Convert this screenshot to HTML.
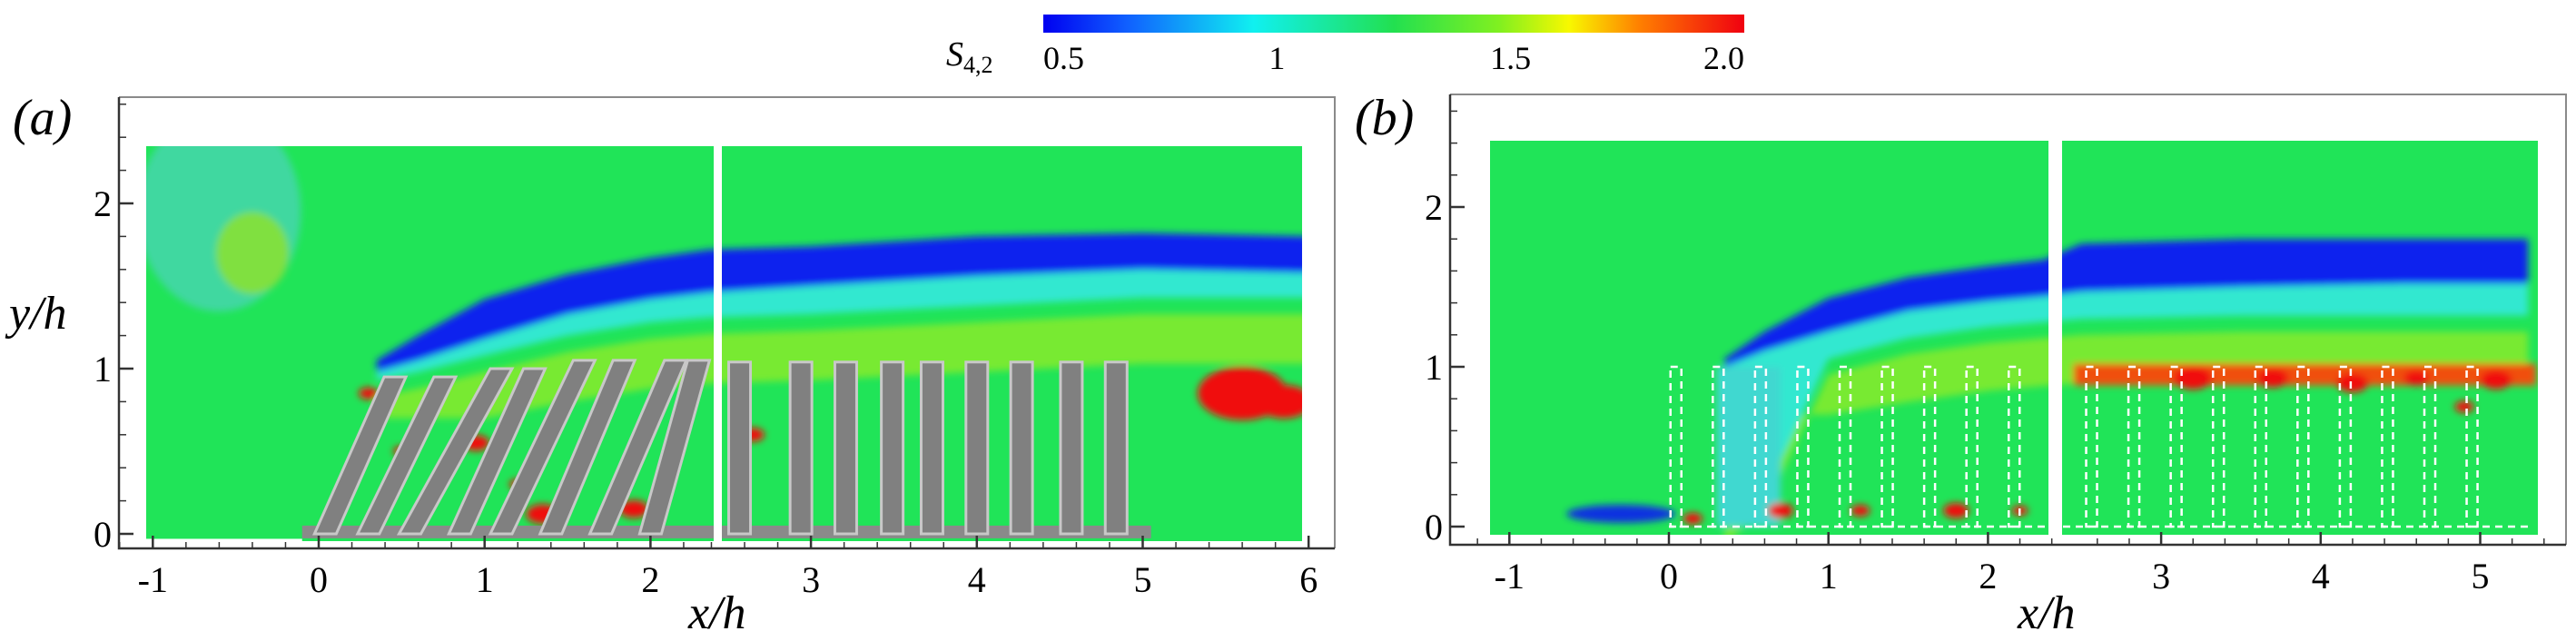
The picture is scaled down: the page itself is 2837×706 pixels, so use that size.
<!DOCTYPE html>
<html><head><meta charset="utf-8">
<style>
html,body{margin:0;padding:0;background:#fff;}
svg{display:block;font-family:"Liberation Serif",serif;}
</style></head>
<body>
<svg id="fig" width="2837" height="706" viewBox="0 0 2837 706" xmlns="http://www.w3.org/2000/svg">
<defs>
<linearGradient id="cbar" x1="0" x2="1" y1="0" y2="0">
<stop offset="0" stop-color="#0000f0"/><stop offset="0.12" stop-color="#1060ff"/>
<stop offset="0.3" stop-color="#10f0f0"/><stop offset="0.5" stop-color="#22e050"/>
<stop offset="0.65" stop-color="#80f020"/><stop offset="0.75" stop-color="#f8f800"/>
<stop offset="0.85" stop-color="#ff8000"/><stop offset="1" stop-color="#f00010"/>
</linearGradient>
<filter id="blur" x="-5%" y="-5%" width="110%" height="110%"><feGaussianBlur stdDeviation="4"/></filter>
<clipPath id="clipA"><rect x="161" y="161" width="1273" height="435"/></clipPath>
<clipPath id="clipB"><rect x="1641" y="155" width="1154" height="434"/></clipPath>
</defs>
<g id="root"></g>
<text x="1042" y="72" font-size="38" font-style="italic">S<tspan font-size="26" dy="8" font-style="normal">4,2</tspan></text>
<rect x="1149" y="16" width="772" height="20" fill="url(#cbar)"/>
<text x="14" y="148" font-size="56" font-style="italic">(a)</text>
<text x="1492" y="148" font-size="56" font-style="italic">(b)</text>
<text x="10" y="362" font-size="52" font-style="italic">y/h</text>
<text x="758" y="692" font-size="52" font-style="italic">x/h</text>
<text x="2222" y="692" font-size="52" font-style="italic">x/h</text>
</svg>
<script>
const cbarTicks = [0.5, 1, 1.5, 2.0];
const cbarLabels = ["0.5", "1", "1.5", "2.0"];
const xTicksA = [-1, 0, 1, 2, 3, 4, 5, 6];
const xTicksB = [-1, 0, 1, 2, 3, 4, 5];
const yTicks = [0, 1, 2];
const shearXA = [0.35, 0.6, 1.0, 1.5, 2.0, 2.35, 3.0, 4.0, 5.0, 6.0];
const shearTopA = [1.05, 1.2, 1.42, 1.57, 1.67, 1.72, 1.74, 1.8, 1.82, 1.8];
const shearBotA = [0.98, 1.05, 1.18, 1.33, 1.42, 1.46, 1.5, 1.56, 1.6, 1.58];
const cyanBotA = [0.93, 0.98, 1.08, 1.2, 1.28, 1.31, 1.33, 1.38, 1.43, 1.43];
const shearXB = [0.35, 0.6, 1.0, 1.5, 2.0, 2.35, 2.5, 3.5, 4.5, 5.3];
const shearTopB = [1.05, 1.22, 1.43, 1.56, 1.63, 1.67, 1.77, 1.8, 1.8, 1.8];
const shearBotB = [1.0, 1.1, 1.22, 1.35, 1.41, 1.44, 1.47, 1.5, 1.52, 1.52];
const cyanBotB = [0.0, 0.2, 1.05, 1.18, 1.25, 1.28, 1.3, 1.32, 1.32, 1.32];
const stemBaseA = [0.04, 0.3, 0.55, 0.85, 1.1, 1.4, 1.7, 2.0, 2.57, 2.94, 3.21, 3.49, 3.73, 4.0, 4.27, 4.57, 4.84];
const stemTopA = [0.46, 0.76, 1.1, 1.3, 1.6, 1.84, 2.15, 2.29, 2.57, 2.94, 3.21, 3.49, 3.73, 4.0, 4.27, 4.57, 4.84];
const stemHA = [0.95, 0.95, 1.0, 1.0, 1.05, 1.05, 1.05, 1.05, 1.04, 1.04, 1.04, 1.04, 1.04, 1.04, 1.04, 1.04, 1.04];
const redXA = [0.3, 0.95, 1.35, 1.9, 2.65, 5.6, 5.85, 0.5, 1.2];
const redYA = [0.85, 0.55, 0.12, 0.15, 0.6, 0.85, 0.8, 0.5, 0.3];
const redRA = [0.06, 0.08, 0.1, 0.09, 0.07, 0.27, 0.17, 0.05, 0.05];
const stemXB = [0.01, 0.275, 0.54, 0.805, 1.07, 1.335, 1.6, 1.865, 2.13, 2.53, 2.795, 3.06, 3.325, 3.59, 3.855, 4.12, 4.385, 4.65, 4.915];
const redXB = [0.7, 1.2, 1.8, 2.2, 3.2, 3.7, 4.2, 4.6, 4.9, 5.1, 0.15];
const redYB = [0.1, 0.1, 0.1, 0.1, 0.93, 0.93, 0.9, 0.93, 0.75, 0.92, 0.05];
const redRB = [0.08, 0.06, 0.08, 0.05, 0.12, 0.1, 0.1, 0.08, 0.06, 0.1, 0.06];

const NS = "http://www.w3.org/2000/svg";
const root = document.getElementById('root');
function mk(tag, attrs, parent) {
  const e = document.createElementNS(NS, tag);
  for (const k in attrs) e.setAttribute(k, attrs[k]);
  (parent || root).appendChild(e);
  return e;
}
const XA = x => x <= 2.35 ? 351 + x * 182.7 : 345 + x * 182.7;
const YA = y => 588 - y * 182;
const XB = x => x <= 2.4 ? 1838 + x * 175.7 : 1853 + x * 175.7;
const YB = y => 580 - y * 176;
const CB = v => 1149 + (v - 0.5) / 1.5 * 772;

cbarTicks.forEach((v, i) => {
  const t = mk('text', {x: CB(v), y: 76, 'font-size': 36, 'text-anchor': i === 0 ? 'start' : (i === 3 ? 'end' : 'middle')});
  
  
  t.textContent = cbarLabels[i];
});

function band(X, Y, xs, top, bot, fill, parent, name) {
  let d = '';
  xs.forEach((x, i) => d += (i ? 'L' : 'M') + X(x) + ',' + Y(top[i]));
  for (let i = xs.length - 1; i >= 0; i--) d += 'L' + X(xs[i]) + ',' + Y(bot[i]);
  const p = mk('path', {d: d + 'Z', fill: fill}, parent);
  
  
}

function panel(o) {
  const g = mk('g', {});
  
  
  const field = mk('g', {'clip-path': o.clip}, g);
  
  
  const r = mk('rect', {x: o.dx, y: o.dy, width: o.dw, height: o.dh, fill: '#20e458'}, field);
  
  
  const bl = mk('g', {filter: 'url(#blur)'}, field);
  const yel = o.shearX.map((x, i) => o.cyanBot[i] - 0.1);
  const yel2 = o.shearX.map((x, i) => Math.max(o.cyanBot[i] - 0.4, 0.7));
  band(o.X, o.Y, o.shearX, yel, yel2, '#78ea30', bl, 'yellowish-band');
  band(o.X, o.Y, o.shearX, o.shearBot, o.cyanBot, '#30e8d0', bl, 'cyan-band');
  band(o.X, o.Y, o.shearX, o.shearTop, o.shearBot, '#0a20ee', bl, 'shear-layer-band');
  o.extra(field, bl);
  const gap = mk('rect', {x: o.gap[0], y: 100, width: o.gap[1] - o.gap[0], height: 505, fill: '#fff'}, g);
  
  
  const fr = mk('path', {d: `M${o.fl},${o.ft}H${o.fr}V${o.fb}`, stroke: '#8a8a8a', 'stroke-width': 2, fill: 'none'}, g);
  
  
  const ax = mk('path', {d: `M${o.fl},${o.ft}V${o.fb}H${o.fr}`, stroke: '#333', 'stroke-width': 2.5, fill: 'none'}, g);
  
  
  for (let v = -1.2; v <= o.xmax + 0.001; v += 0.2) {
    const px = o.X(v);
    if (px < o.fl || px > o.fr) continue;
    const major = Math.abs(v - Math.round(v)) < 0.01;
    const t = mk('line', {x1: px, x2: px, y1: o.fb, y2: o.fb - (major ? 14 : 7), stroke: '#333', 'stroke-width': major ? 2.5 : 1.5}, g);
    
    
  }
  o.xTicks.forEach(v => {
    const t = mk('text', {x: o.X(v), y: o.fb + 48, 'font-size': 40, 'text-anchor': 'middle'}, g);
    
    
    t.textContent = String(v);
  });
  for (let v = 0; v <= 2.6; v += 0.2) {
    const py = o.Y(v);
    const major = Math.abs(v - Math.round(v)) < 0.01;
    const t = mk('line', {x1: o.fl, x2: o.fl + (major ? 16 : 8), y1: py, y2: py, stroke: '#333', 'stroke-width': major ? 2.5 : 1.5}, g);
    
    
  }
  yTicks.forEach(v => {
    const t = mk('text', {x: o.fl - 8, y: o.Y(v) + 14, 'font-size': 40, 'text-anchor': 'end'}, g);
    
    
    t.textContent = String(v);
  });
}

panel({
  name: 'panel-a', X: XA, Y: YA, clip: 'url(#clipA)', dx: 161, dy: 161, dw: 1273, dh: 435,
  shearX: shearXA, shearTop: shearTopA, shearBot: shearBotA, cyanBot: cyanBotA,
  gap: [786, 795], fl: 131, ft: 107, fr: 1470, fb: 604, xmax: 6.2, xTicks: xTicksA,
  extra: (field, bl) => {
    const c = mk('ellipse', {cx: XA(-0.6), cy: YA(1.95), rx: 90, ry: 110, fill: '#40d8a0'}, bl);
    
    
    const c2 = mk('ellipse', {cx: XA(-0.4), cy: YA(1.7), rx: 40, ry: 45, fill: '#80e040'}, bl);
    
    
    redXA.forEach((x, i) => {
      const e = mk('ellipse', {cx: XA(x), cy: YA(redYA[i]), rx: redRA[i] * 182, ry: redRA[i] * 182 * 0.6, fill: '#f01010'}, bl);
      
      
    });
    const base = mk('rect', {x: XA(-0.1), y: YA(0.05), width: XA(5.05) - XA(-0.1), height: 14, fill: '#8a8a8a'}, field);
    
    
    const wh = mk('rect', {x: XA(-1.1), y: YA(-0.03), width: XA(-0.1) - XA(-1.1), height: 20, fill: '#fff'}, field);
    
    
    stemBaseA.forEach((b, i) => {
      const w = 12, x0 = XA(b), x1 = XA(stemTopA[i]), yt = YA(stemHA[i]), yb = YA(0);
      const p = mk('path', {d: `M${x0 - w},${yb}L${x1 - w},${yt}L${x1 + w},${yt}L${x0 + w},${yb}Z`, fill: '#808080', stroke: '#c8c8c8', 'stroke-width': 3}, field);
      
      
    });
  }
});

panel({
  name: 'panel-b', X: XB, Y: YB, clip: 'url(#clipB)', dx: 1641, dy: 155, dw: 1154, dh: 434,
  shearX: shearXB, shearTop: shearTopB, shearBot: shearBotB, cyanBot: cyanBotB,
  gap: [2256, 2271], fl: 1597, ft: 104, fr: 2826, fb: 600, xmax: 5.6, xTicks: xTicksB,
  extra: (field, bl) => {
    const c = mk('rect', {x: XB(0.3), y: YB(1.0), width: XB(0.7) - XB(0.3), height: YB(0) - YB(1.0), fill: '#40d8d0'}, bl);
    
    
    const wb = mk('ellipse', {cx: XB(-0.3), cy: YB(0.08), rx: 60, ry: 10, fill: '#1030e0'}, bl);
    
    
    const yb = mk('rect', {x: XB(2.45), y: YB(1.02), width: XB(5.35) - XB(2.45), height: 24, fill: '#f05010'}, bl);
    
    
    redXB.forEach((x, i) => {
      const e = mk('ellipse', {cx: XB(x), cy: YB(redYB[i]), rx: redRB[i] * 176, ry: redRB[i] * 176 * 0.6, fill: '#f01010'}, bl);
      
      
    });
    stemXB.forEach(x => {
      const r = mk('rect', {x: XB(x), y: YB(1.0), width: 12, height: YB(0) - YB(1.0), fill: 'none', stroke: '#fff', 'stroke-width': 2.5, 'stroke-dasharray': '8 6'}, field);
      
      
    });
    const bl2 = mk('line', {x1: XB(0), x2: XB(5.3), y1: YB(0), y2: YB(0), stroke: '#fff', 'stroke-width': 2.5, 'stroke-dasharray': '8 6'}, field);
    
    
  }
});
</script>
</body></html>
